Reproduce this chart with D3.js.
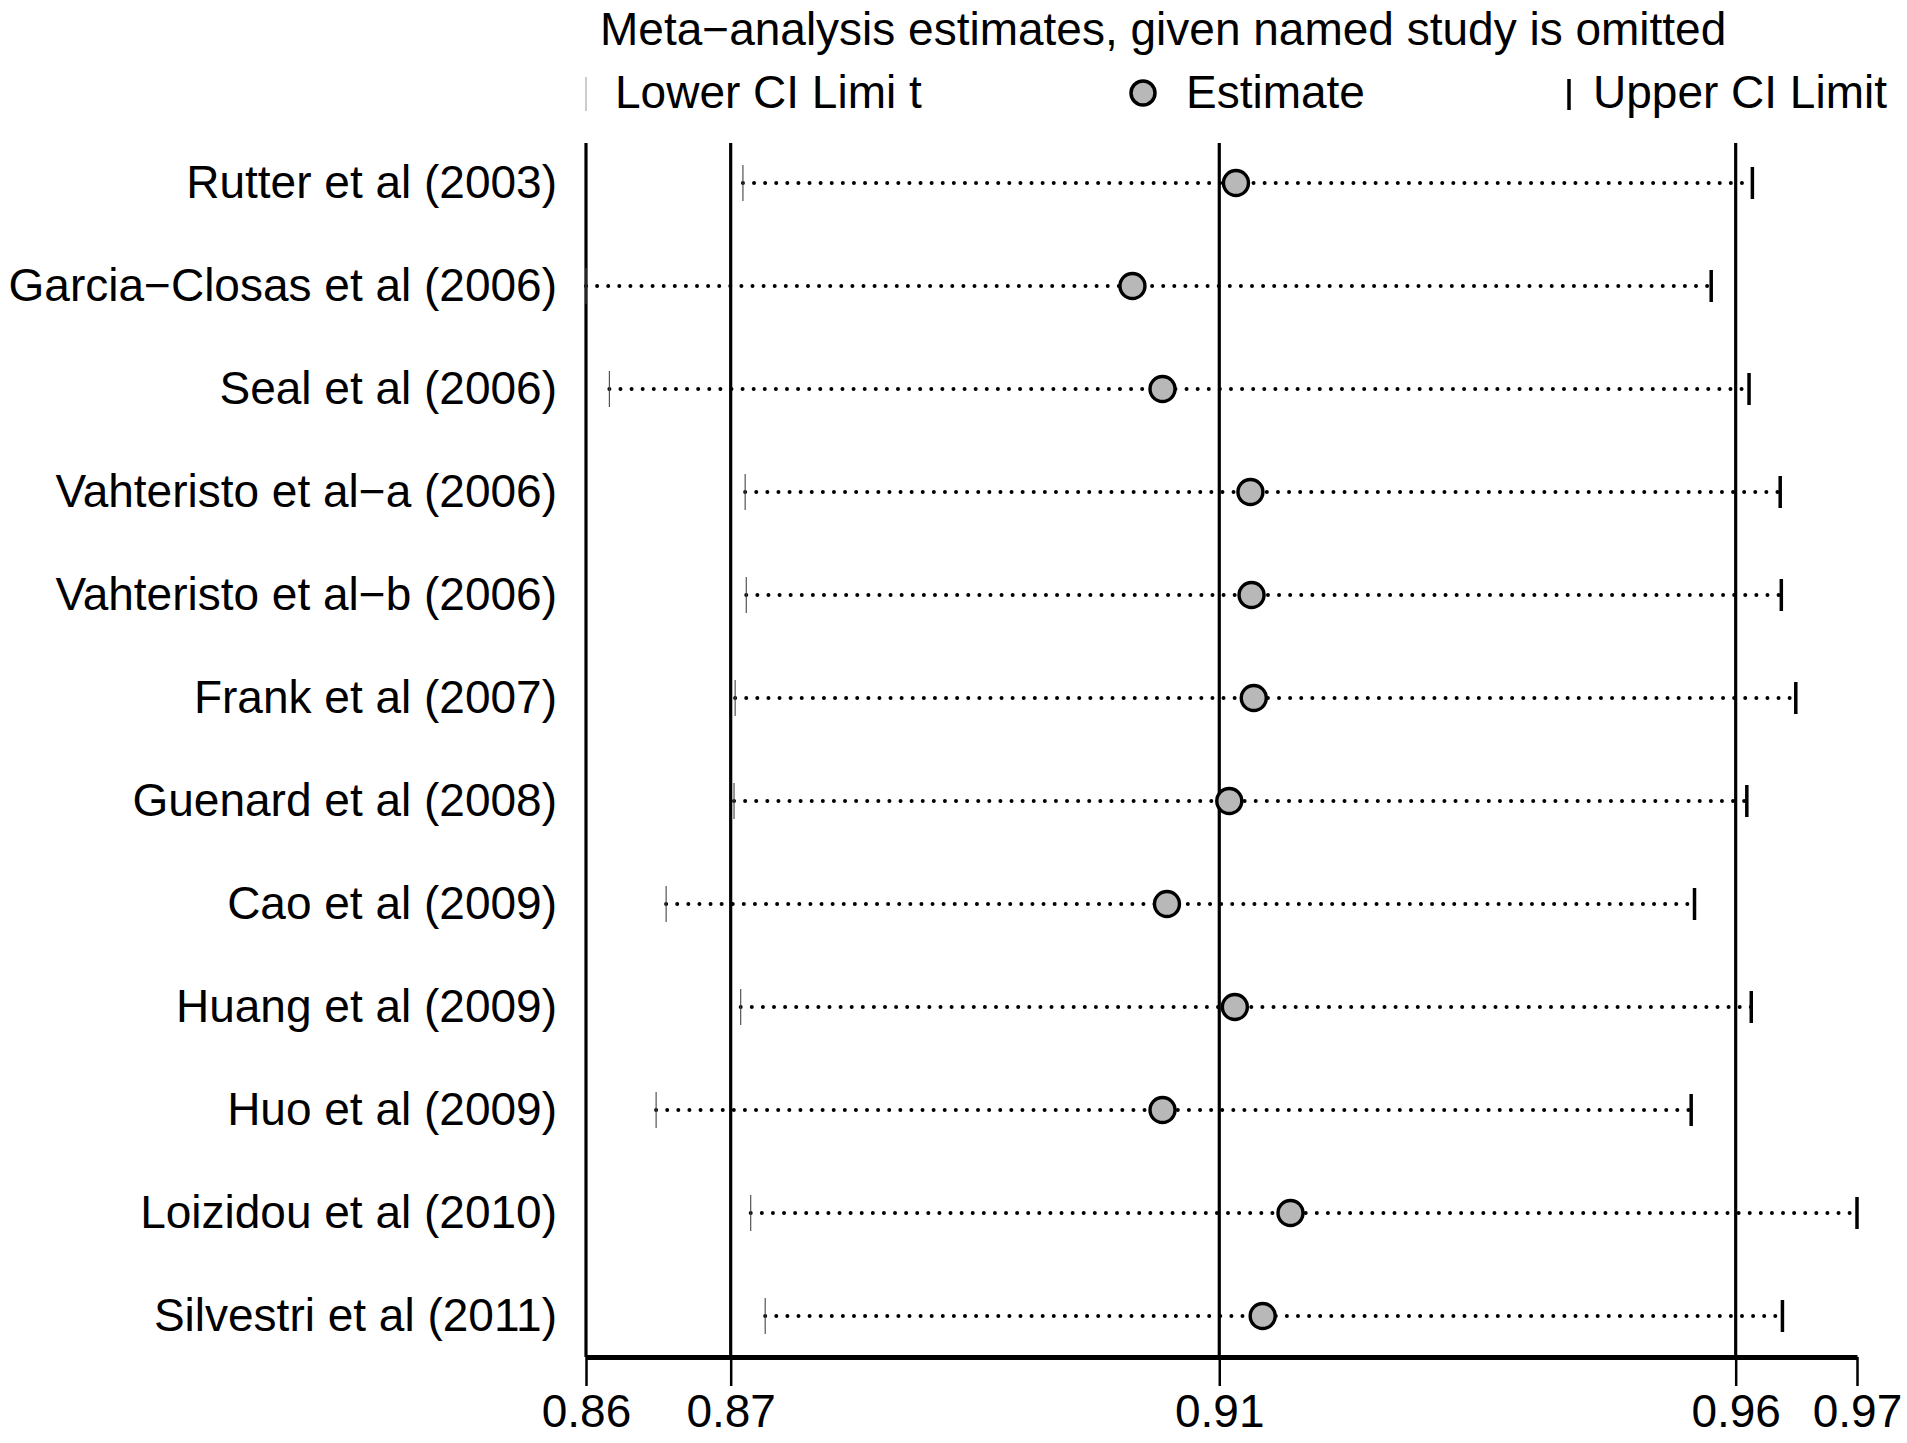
<!DOCTYPE html>
<html>
<head>
<meta charset="utf-8">
<script src="https://cdn.jsdelivr.net/npm/d3@7"></script>
<style>
  html, body { margin: 0; padding: 0; background: #fff; }
  svg text { font-family: "Liberation Sans", Arial, Helvetica, sans-serif; fill: #000; }
</style>
</head>
<body>
<svg id="chart" width="1907" height="1443"></svg>
<script>
const studies = [
  "Rutter et al (2003)",
  "Garcia\u2212Closas et al (2006)",
  "Seal et al (2006)",
  "Vahteristo et al\u2212a (2006)",
  "Vahteristo et al\u2212b (2006)",
  "Frank et al (2007)",
  "Guenard et al (2008)",
  "Cao et al (2009)",
  "Huang et al (2009)",
  "Huo et al (2009)",
  "Loizidou et al (2010)",
  "Silvestri et al (2011)"
];
const lowerCI  = [0.8699, 0.8558, 0.8579, 0.8701, 0.8702, 0.8692, 0.8691, 0.8630, 0.8697, 0.8621, 0.8706, 0.8719];
const estimate = [0.9142, 0.9049, 0.9076, 0.9155, 0.9156, 0.9158, 0.9136, 0.9080, 0.9141, 0.9076, 0.9191, 0.9166];
const upperCI  = [0.9606, 0.9569, 0.9603, 0.9631, 0.9632, 0.9645, 0.9601, 0.9554, 0.9605, 0.9551, 0.9700, 0.9633];
// min lower, overall lower CI, overall estimate, overall upper CI, max upper
const tickValues = [0.8558, 0.8688, 0.9127, 0.9591, 0.9700];
const titleText = "Meta\u2212analysis estimates, given named study is omitted";
const legendLabels = ["Lower CI Limi t", "Estimate", "Upper CI Limit"];

const svg = d3.select("#chart");
const fontSize = 46;

const x = d3.scaleLinear().domain([tickValues[0], tickValues[4]]).range([586, 1857]);
const y = d3.scalePoint().domain(studies).range([183, 1316]);
const plotTop = 143, plotBottom = 1357;

// Title
svg.append("text").attr("x", 600).attr("y", 45)
  .style("font-size", fontSize + "px").text(titleText);

// Legend
const lg = svg.append("g");
lg.append("line").attr("x1", 586).attr("x2", 586).attr("y1", 77).attr("y2", 111)
  .attr("stroke", "#999").attr("stroke-width", 1);
lg.append("text").attr("x", 615).attr("y", 108).style("font-size", fontSize + "px").text(legendLabels[0]);
lg.append("circle").attr("cx", 1143).attr("cy", 93).attr("r", 12)
  .attr("fill", "#b8b8b8").attr("stroke", "#000").attr("stroke-width", 3.5);
lg.append("text").attr("x", 1186).attr("y", 108).style("font-size", fontSize + "px").text(legendLabels[1]);
lg.append("line").attr("x1", 1569).attr("x2", 1569).attr("y1", 79).attr("y2", 110)
  .attr("stroke", "#000").attr("stroke-width", 3.5);
lg.append("text").attr("x", 1593).attr("y", 108).style("font-size", fontSize + "px").text(legendLabels[2]);

// Y axis line (at min) and reference lines
svg.append("line").attr("x1", x(tickValues[0])).attr("x2", x(tickValues[0]))
  .attr("y1", plotTop).attr("y2", plotBottom).attr("stroke", "#000").attr("stroke-width", 3.2);
svg.selectAll(".ref").data(tickValues.slice(1, 4)).enter().append("line")
  .attr("class", "ref")
  .attr("x1", d => x(d)).attr("x2", d => x(d))
  .attr("y1", plotTop).attr("y2", plotBottom)
  .attr("stroke", "#000").attr("stroke-width", 3.2);

// X axis
const xAxis = d3.axisBottom(x).tickValues(tickValues).tickFormat(d3.format(".2f"))
  .tickSize(29).tickSizeOuter(0).tickPadding(8);
const gx = svg.append("g").attr("transform", `translate(0,${plotBottom})`).call(xAxis);
gx.select(".domain").attr("stroke", "#000").attr("stroke-width", 5);
gx.selectAll(".tick line").attr("stroke", "#000").attr("stroke-width", 2.5);
gx.selectAll(".tick text").style("font-size", fontSize + "px")
  .attr("font-family", "Liberation Sans, Arial, sans-serif").attr("fill", "#000");

// Y axis labels
const yAxis = d3.axisLeft(y).tickSize(0).tickPadding(29);
const gy = svg.append("g").attr("transform", `translate(${x(tickValues[0])},0)`).call(yAxis);
gy.select(".domain").remove();
gy.selectAll(".tick text").style("font-size", fontSize + "px")
  .attr("font-family", "Liberation Sans, Arial, sans-serif").attr("fill", "#000");

const rows = studies.map((s, i) => ({ s, lo: lowerCI[i], est: estimate[i], hi: upperCI[i] }));

// Dotted CI lines
svg.selectAll(".ci").data(rows).enter().append("line")
  .attr("x1", d => x(d.lo)).attr("x2", d => x(d.hi))
  .attr("y1", d => y(d.s)).attr("y2", d => y(d.s))
  .attr("stroke", "#000").attr("stroke-width", 4)
  .attr("stroke-linecap", "round").attr("stroke-dasharray", "0,11.1");

// Lower ticks (thin)
svg.selectAll(".lo").data(rows).enter().append("line")
  .attr("x1", d => x(d.lo)).attr("x2", d => x(d.lo))
  .attr("y1", d => y(d.s) - 18).attr("y2", d => y(d.s) + 18)
  .attr("stroke", "#444").attr("stroke-width", 1.1);

// Upper ticks (thick)
svg.selectAll(".hi").data(rows).enter().append("line")
  .attr("x1", d => x(d.hi)).attr("x2", d => x(d.hi))
  .attr("y1", d => y(d.s) - 16).attr("y2", d => y(d.s) + 16)
  .attr("stroke", "#000").attr("stroke-width", 3.5);

// Estimates
svg.selectAll(".est").data(rows).enter().append("circle")
  .attr("cx", d => x(d.est)).attr("cy", d => y(d.s)).attr("r", 12.5)
  .attr("fill", "#b8b8b8").attr("stroke", "#000").attr("stroke-width", 3.4);
</script>
</body>
</html>
